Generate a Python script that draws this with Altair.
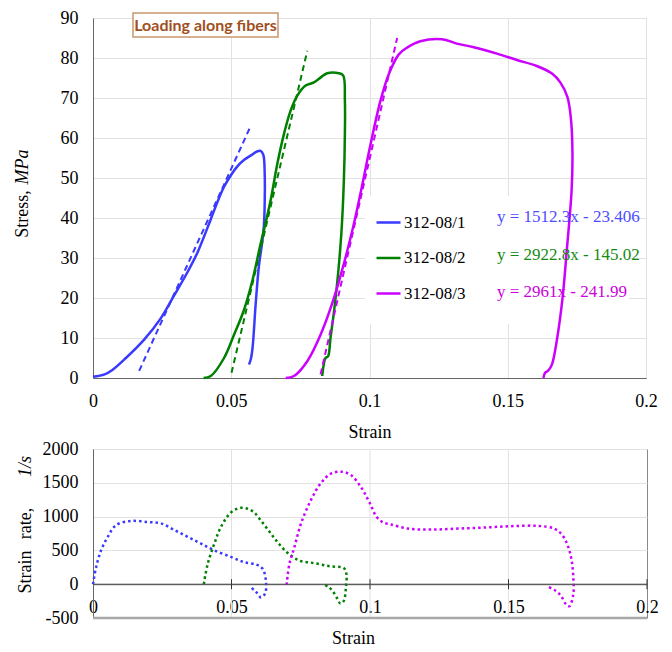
import altair as alt
import pandas as pd

# ---------------- data ----------------
series = ["312-08/1", "312-08/2", "312-08/3"]
colors = ["#3a3aff", "#008000", "#cc00ff"]
eq_colors = ["#4d4dff", "#138a13", "#cc00dd"]
fit_labels = ["y = 1512.3x - 23.406", "y = 2922.8x - 145.02", "y = 2961x - 241.99"]

x_ticks = [0, 0.05, 0.1, 0.15, 0.2]
stress_ticks = [0, 10, 20, 30, 40, 50, 60, 70, 80, 90]
rate_ticks = [-500, 0, 500, 1000, 1500, 2000]
rate_tick_marks = [0.05, 0.1, 0.15, 0.2]
rate_grid = [0.05, 0.1, 0.15]

# stress-strain curves (solid)
s1_strain = [0.0, 0.0042, 0.007, 0.0119, 0.0185, 0.0245, 0.0294, 0.0342, 0.0378, 0.0426,
             0.0450, 0.0474, 0.0500, 0.0522, 0.0548, 0.057, 0.0592, 0.0606, 0.0616, 0.0621,
             0.0621, 0.0618, 0.0612, 0.0600, 0.0588, 0.0577, 0.0570, 0.0564]
s1_stress = [0.3, 0.9, 2.0, 5.0, 9.6, 14.9, 20.7, 26.5, 31.4, 39.7,
             44.0, 47.8, 50.8, 52.9, 54.6, 55.6, 56.6, 56.8, 55.8, 51.0,
             44.0, 38.0, 34.0, 28.0, 18.2, 7.5, 4.5, 3.4]

s2_strain = [0.0400, 0.0426, 0.0474, 0.0510, 0.0546, 0.0577, 0.0606, 0.0625, 0.0643, 0.0667,
             0.0691, 0.0715, 0.0739, 0.0769, 0.0799, 0.0823, 0.0847, 0.0889, 0.0905, 0.0911,
             0.0911, 0.0907, 0.0899, 0.0887, 0.0873, 0.0859, 0.0850, 0.0841, 0.0829]
s2_stress = [0.0, 0.5, 5.0, 10.8, 17.0, 24.5, 33.5, 39.0, 44.6, 53.7,
             61.1, 66.9, 70.6, 73.1, 73.9, 75.1, 76.2, 76.2, 75.6, 69.4,
             61.1, 48.8, 37.0, 26.5, 17.4, 10.0, 5.4, 5.0, 0.5]

s3_strain = [0.0697, 0.0727, 0.0775, 0.0823, 0.0871, 0.0907, 0.0940, 0.0970, 0.1004, 0.1040,
             0.1070, 0.1106, 0.1136, 0.1184, 0.1262, 0.1316, 0.1377, 0.1461, 0.1533, 0.1605,
             0.1660, 0.1690, 0.1716, 0.1729, 0.1734, 0.1731, 0.1714, 0.1698, 0.1677, 0.1660,
             0.1647, 0.1635, 0.1629]
s3_stress = [0.0, 0.5, 4.2, 10.8, 19.9, 28.5, 37.5, 47.0, 58.5, 69.4,
             76.0, 80.9, 82.6, 84.2, 84.7, 83.6, 82.7, 81.1, 79.5, 78.0,
             76.1, 73.9, 70.2, 64.4, 56.2, 47.0, 32.3, 19.9, 9.2, 3.4,
             1.9, 1.3, 0.0]

# linear fits (dashed), end points
f1_strain = [0.0167, 0.0567]
f1_stress = [1.8, 62.5]
f2_strain = [0.0501, 0.0775]
f2_stress = [1.3, 81.8]
f3_strain = [0.0823, 0.1100]
f3_stress = [0.9, 85.0]

# strain rate curves (dotted)
r1_strain = [0.0, 0.0011, 0.0029, 0.0053, 0.0083, 0.0137, 0.0197, 0.0245, 0.0294, 0.0342,
             0.0390, 0.0438, 0.0500, 0.0546, 0.0590, 0.0613, 0.0625, 0.0621, 0.0606, 0.0588,
             0.0564]
r1_rate = [0, 249, 499, 698, 873, 935, 920, 900, 800, 700,
           600, 500, 400, 325, 290, 224, 10, -140, -195, -110,
           -30]

r2_strain = [0.0400, 0.0414, 0.0438, 0.0462, 0.0498, 0.0534, 0.0574, 0.0619, 0.0661, 0.0700,
             0.0745, 0.0799, 0.0855, 0.0905, 0.0915, 0.0913, 0.0905, 0.0893, 0.0880, 0.0865,
             0.0850, 0.0835]
r2_rate = [0, 299, 599, 848, 1060, 1130, 1085, 873, 648, 473,
           349, 312, 265, 240, 150, -50, -250, -285, -200, -100,
           -40, -10]

r3_strain = [0.0699, 0.0709, 0.0727, 0.0751, 0.0787, 0.0823, 0.0859, 0.0895, 0.0931, 0.0970,
             0.0998, 0.1025, 0.1050, 0.1076, 0.1136, 0.1220, 0.1317, 0.1413, 0.1509, 0.1605,
             0.1665, 0.1695, 0.1716, 0.1728, 0.1734, 0.1734, 0.1720, 0.1708, 0.1690, 0.1671,
             0.1641]
r3_rate = [-10, 299, 548, 898, 1247, 1497, 1635, 1665, 1615, 1420,
           1210, 990, 910, 883, 823, 808, 823, 838, 858, 863,
           823, 723, 548, 349, 100, -150, -325, -300, -175, -100,
           -35]


def curve(xs, ys, name):
    return pd.DataFrame({"strain": xs, "value": ys, "series": name,
                         "order": list(range(len(xs)))})


solid_df = pd.concat([curve(s1_strain, s1_stress, series[0]),
                      curve(s2_strain, s2_stress, series[1]),
                      curve(s3_strain, s3_stress, series[2])])
fit_df = pd.concat([curve(f1_strain, f1_stress, series[0]),
                    curve(f2_strain, f2_stress, series[1]),
                    curve(f3_strain, f3_stress, series[2])])
rate_df = pd.concat([curve(r1_strain, r1_rate, series[0]),
                     curve(r2_strain, r2_rate, series[1]),
                     curve(r3_strain, r3_rate, series[2])])

SERIF = "Liberation Serif"
W1, H1 = 553, 360
W2, H2 = 554, 169

color_scale = alt.Scale(domain=series, range=colors)
legend = alt.Legend(orient="none", legendX=282, legendY=191, title=None,
                    symbolType="stroke", symbolSize=576, symbolStrokeWidth=2.5,
                    labelFont=SERIF, labelFontSize=17, labelColor="black",
                    labelOffset=2, rowPadding=13.5, padding=0)
color_enc = alt.Color("series:N", scale=color_scale, legend=legend)

font_kw = dict(labelFont=SERIF, labelFontSize=18, labelColor="black",
               titleFont=SERIF, titleFontSize=18, titleColor="black",
               titleFontWeight="normal", ticks=False)

X_top = alt.X("strain:Q", scale=alt.Scale(domain=[0, 0.2], nice=False),
              axis=alt.Axis(values=x_ticks, labelExpr="'' + datum.value", title="Strain",
                            labelPadding=14, titlePadding=13, labelFlush=False,
                            gridColor="#e2e2e2", domainColor="#666", **font_kw))
Y_top = alt.Y("value:Q", scale=alt.Scale(domain=[0, 90], nice=False),
              axis=alt.Axis(values=stress_ticks, labelExpr="'' + datum.value", title=None,
                            labelPadding=15, gridColor="#e2e2e2", domainColor="#666",
                            **font_kw))

one = alt.Data(values=[{"k": 0}])

legend_box = alt.Chart(one).mark_rect(fill="white").encode(
    x=alt.value(272), x2=alt.value(536), y=alt.value(178), y2=alt.value(306))

solid = alt.Chart(solid_df).mark_line(strokeWidth=2.5, interpolate="catmull-rom").encode(
    x=X_top, y=Y_top, color=color_enc, order="order:Q")
dashed = alt.Chart(fit_df).mark_line(strokeWidth=2, strokeDash=[6, 4]).encode(
    x=X_top, y=Y_top, color=color_enc, order="order:Q")

eq_layers = []
for k in range(3):
    eq_layers.append(
        alt.Chart(alt.Data(values=[{"t": fit_labels[k]}])).mark_text(
            align="left", baseline="middle", font=SERIF, fontSize=17, color=eq_colors[k]
        ).encode(x=alt.value(404), y=alt.value(199 + 37.5 * k), text="t:N"))

title_box = alt.Chart(one).mark_rect(fill="white", stroke="#c8966e", strokeWidth=1.5).encode(
    x=alt.value(40), x2=alt.value(185), y=alt.value(-5), y2=alt.value(19))
title_text = alt.Chart(alt.Data(values=[{"t": "Loading along fibers"}])).mark_text(
    font="Lato", fontWeight="bold", fontSize=16, color="#a0501e", align="center",
    baseline="middle").encode(x=alt.value(112.5), y=alt.value(7.5), text="t:N")

ytitle_top = [
    alt.Chart(alt.Data(values=[{"t": "Stress,"}])).mark_text(
        font=SERIF, fontSize=18, color="black", angle=270, align="center", baseline="middle"
    ).encode(x=alt.value(-70), y=alt.value(196), text="t:N"),
    alt.Chart(alt.Data(values=[{"t": "MPa"}])).mark_text(
        font=SERIF, fontSize=18, fontStyle="italic", color="black", angle=270,
        align="center", baseline="middle"
    ).encode(x=alt.value(-70), y=alt.value(149), text="t:N"),
]

top = alt.layer(legend_box, solid, dashed, *eq_layers, title_box, title_text,
                *ytitle_top).properties(width=W1, height=H1)

# ---------------- bottom chart ----------------
zero_px = H2 * 2000 / 2500
X_bot = alt.X("strain:Q", scale=alt.Scale(domain=[0, 0.2], nice=False),
              axis=alt.Axis(values=x_ticks, labelExpr="'' + datum.value", title="Strain",
                            offset=-(H2 - zero_px), labelPadding=14, titlePadding=13,
                            titleX=260, labelFlush=False, grid=False, domainColor="#555",
                            **font_kw))
Y_bot = alt.Y("value:Q", scale=alt.Scale(domain=[-500, 2000], nice=False),
              axis=alt.Axis(values=rate_ticks, labelExpr="'' + datum.value", title=None,
                            labelPadding=15, gridColor="#e2e2e2", domainColor="#666",
                            **font_kw))

vgrid = alt.Chart(pd.DataFrame({"strain": rate_grid})).mark_rule(
    color="#e2e2e2", strokeWidth=1).encode(
    x=alt.X("strain:Q"), y=alt.value(0), y2=alt.value(H2))

dotted = alt.Chart(rate_df).mark_line(strokeWidth=2.5, strokeDash=[2.5, 3], strokeCap="butt",
                                      interpolate="catmull-rom").encode(
    x=X_bot, y=Y_bot, color=alt.Color("series:N", scale=color_scale, legend=None),
    order="order:Q")

zero_line = alt.Chart(one).mark_rule(color="#555", strokeWidth=1).encode(
    x=alt.value(0), x2=alt.value(W2), y=alt.value(zero_px))

tick_df = pd.DataFrame({"strain": rate_tick_marks})
tick_rules = alt.Chart(tick_df).mark_rule(color="#333", strokeWidth=1).encode(
    x=alt.X("strain:Q"), y=alt.value(zero_px - 5), y2=alt.value(zero_px + 5))

bottom_line = alt.Chart(one).mark_rule(color="#a8a8a8", strokeWidth=2.5).encode(
    x=alt.value(0), x2=alt.value(W2), y=alt.value(H2))

ytitle_bot = [
    alt.Chart(alt.Data(values=[{"t": "Strain"}])).mark_text(
        font=SERIF, fontSize=18, color="black", angle=270, align="center", baseline="middle"
    ).encode(x=alt.value(-67.5), y=alt.value(123), text="t:N"),
    alt.Chart(alt.Data(values=[{"t": "rate,"}])).mark_text(
        font=SERIF, fontSize=18, color="black", angle=270, align="center", baseline="middle"
    ).encode(x=alt.value(-67.5), y=alt.value(74.5), text="t:N"),
    alt.Chart(alt.Data(values=[{"t": "1/s"}])).mark_text(
        font=SERIF, fontSize=18, fontStyle="italic", color="black", angle=270,
        align="center", baseline="middle"
    ).encode(x=alt.value(-67.5), y=alt.value(17.5), text="t:N"),
]

bottom = alt.layer(vgrid, dotted, zero_line, tick_rules, bottom_line,
                   *ytitle_bot).properties(width=W2, height=H2)

chart = alt.vconcat(top, bottom, spacing=71, bounds="flush").properties(
    padding={"left": 5, "top": 0, "right": 0, "bottom": 0}
).configure_axis(
    labelFont=SERIF, labelFontSize=18, labelColor="black",
    titleFont=SERIF, titleFontSize=18, titleColor="black", titleFontWeight="normal",
    gridColor="#e2e2e2", domainColor="#666", domainWidth=1
).configure_view(
    stroke="#888", strokeWidth=1
)

chart.save("out.html", embed_options={"renderer": "svg", "actions": False})
